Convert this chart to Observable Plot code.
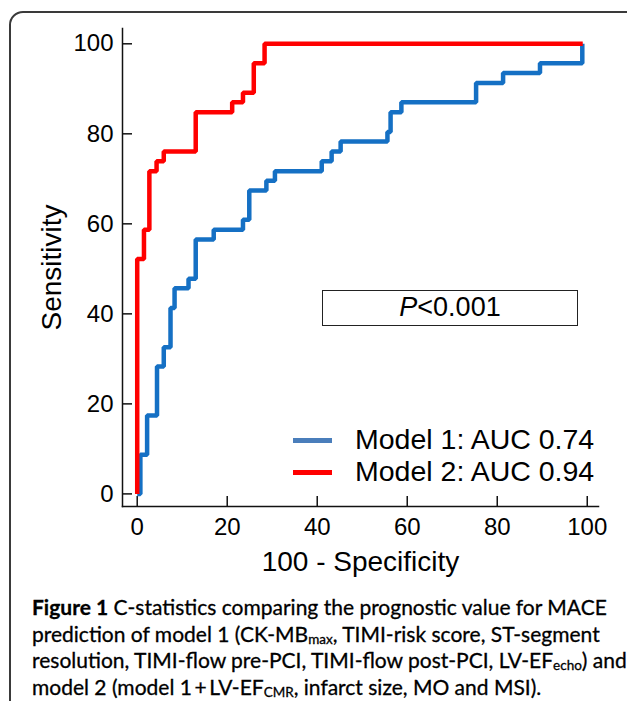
<!DOCTYPE html>
<html>
<head>
<meta charset="utf-8">
<script src="https://cdn.jsdelivr.net/npm/d3@7"></script>
<script src="https://cdn.jsdelivr.net/npm/@observablehq/plot@0.6"></script>
<style>
  html, body { margin: 0; padding: 0; background: #fff; }
  body { width: 627px; height: 701px; overflow: hidden; position: relative; font-family: "Liberation Sans", Arial, sans-serif; }
  #frame { position: absolute; left: 9px; top: 11px; width: 660px; height: 740px; border: 2px solid #3a3a3a; border-radius: 14px; box-sizing: border-box; }
  #chart { position: absolute; left: 0; top: 0; }
  .leg-line { position: absolute; height: 5px; width: 39px; left: 293px; }
  .leg-text { position: absolute; left: 355px; font-size: 28.5px; line-height: 30px; color: #000; white-space: pre; }
  #pbox { position: absolute; left: 322px; top: 290px; width: 256px; height: 36px; border: 1.5px solid #222; box-sizing: border-box; font-size: 27px; line-height: 33px; text-align: center; color: #000; }
  #caption { position: absolute; left: 32px; top: 594px; width: 590px; font-family: Lato, "Open Sans", sans-serif; font-size: 21px; line-height: 26.5px; color: #000; white-space: nowrap; -webkit-text-stroke: 0.3px #000; }
  #caption b { font-weight: 700; }
  #caption sub { font-size: 13.5px; vertical-align: -2px; line-height: 0; }
</style>
</head>
<body>
<div id="frame"></div>
<div id="chart"></div>
<div id="legend"></div>
<div id="pbox"></div>
<div id="caption"></div>
<script>
// ---- data ----
const xTicks = [0, 20, 40, 60, 80, 100];
const yTicks = [0, 20, 40, 60, 80, 100];
const xLabel = "100 - Specificity";
const yLabel = "Sensitivity";
const seriesNames = ["Model 1: AUC 0.74", "Model 2: AUC 0.94"];
const seriesColors = ["#1570c4", "#ff0000"];
const legendColors = ["#4a7ebb", "#ff0000"];
const pValueText = "<0.001";

// Model 1 ROC (100 - specificity, sensitivity)
const model1Fpr = [0, 0.7, 2.2, 4.4, 5.9, 7.4, 8.3, 11.4, 13.0, 17.0, 23.5, 24.9, 28.7, 30.6, 41.0, 43.2, 45.2, 55.6, 56.3, 58.7, 75.3, 81.3, 89.5, 98.9];
const model1Tpr = [0, 8.7, 17.4, 28.3, 32.6, 41.3, 45.7, 47.8, 56.5, 58.7, 60.9, 67.4, 69.6, 71.7, 73.9, 76.1, 78.3, 80.4, 84.8, 87.0, 91.3, 93.5, 95.7, 100];
// Model 2 ROC
const model2Fpr = [0, 0, 1.5, 2.7, 4.3, 5.9, 13.0, 21.1, 23.5, 25.9, 28.3, 99.0];
const model2Tpr = [0, 52.2, 58.7, 71.7, 73.9, 76.1, 84.8, 87.0, 89.1, 95.7, 100, 100];

const m1 = model1Fpr.map((x, i) => ({x, y: model1Tpr[i]}));
const m2 = model2Fpr.map((x, i) => ({x, y: model2Tpr[i]}));

const chart = Plot.plot({
  width: 627,
  height: 585,
  marginLeft: 122,
  marginRight: 29,
  marginTop: 28,
  marginBottom: 79,
  x: {domain: [-3.27, 102.5]},
  y: {domain: [-2.8, 103.4]},
  style: {fontFamily: '"Liberation Sans", Arial, sans-serif', fontSize: "24px", color: "#000", background: "transparent", overflow: "visible"},
  marks: [
    Plot.frame({anchor: "left", stroke: "#111", strokeWidth: 1.5}),
    Plot.frame({anchor: "bottom", stroke: "#111", strokeWidth: 1.5}),
    Plot.axisX(xTicks, {tickSize: -10, tickPadding: 21, fontSize: 24, label: null, strokeWidth: 1.5, stroke: "#111"}),
    Plot.axisY(yTicks, {tickSize: -10, tickPadding: 19, fontSize: 24, label: null, strokeWidth: 1.5, stroke: "#111"}),
    Plot.text([xLabel], {frameAnchor: "bottom", dy: 56, fontSize: 28, textAnchor: "middle", lineAnchor: "middle", fill: "#000"}),
    Plot.text([yLabel], {frameAnchor: "left", dx: -70, rotate: -90, fontSize: 28, textAnchor: "middle", lineAnchor: "middle", fill: "#000"}),
    Plot.line(m1, {x: "x", y: "y", curve: "step-after", stroke: seriesColors[0], strokeWidth: 4.5, strokeLinejoin: "miter", strokeLinecap: "butt"}),
    Plot.line(m2, {x: "x", y: "y", curve: "step-after", stroke: seriesColors[1], strokeWidth: 4.5, strokeLinejoin: "miter", strokeLinecap: "butt"})
  ]
});
document.getElementById("chart").appendChild(chart);

// legend
const legend = document.getElementById("legend");
const legendY = [440, 472];
seriesNames.forEach((name, i) => {
  const ln = document.createElement("div");
  ln.className = "leg-line";
  ln.style.top = (legendY[i] - 2.5) + "px";
  ln.style.background = legendColors[i];
  legend.appendChild(ln);
  const tx = document.createElement("div");
  tx.className = "leg-text";
  tx.style.top = (legendY[i] - 16) + "px";
  tx.textContent = name;
  legend.appendChild(tx);
});

// p-value box
document.getElementById("pbox").innerHTML = "<i>P</i>" + pValueText.replace("<", "&lt;");

// caption
document.getElementById("caption").innerHTML =
  "<b>Figure 1</b> C-statistics comparing the prognostic value for MACE<br>" +
  "prediction of model 1 (CK-MB<sub>max</sub>, TIMI-risk score, ST-segment<br>" +
  "resolution, TIMI-flow pre-PCI, TIMI-flow post-PCI, LV-EF<sub>echo</sub>) and<br>" +
  "model 2 (model 1\u2009+\u2009LV-EF<sub>CMR</sub>, infarct size, MO and MSI).";
</script>
</body>
</html>
